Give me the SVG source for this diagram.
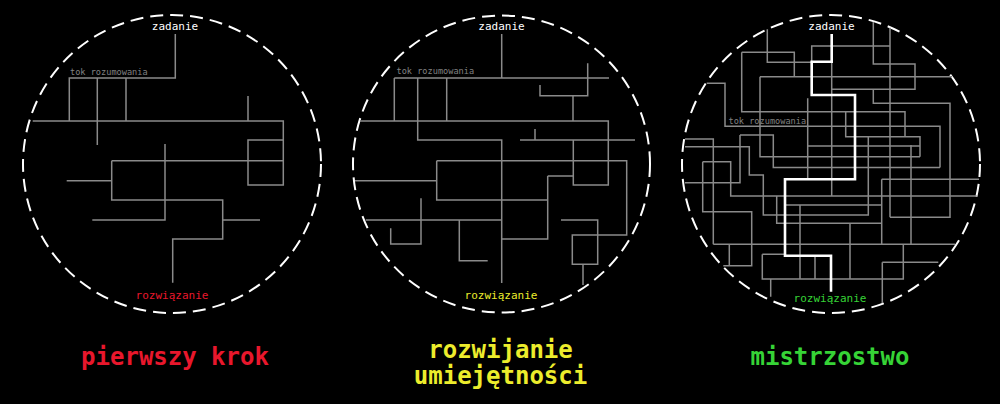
<svg xmlns="http://www.w3.org/2000/svg" width="1000" height="404" viewBox="0 0 1000 404">
<style>
.bg{fill:#000}
.ring{fill:none;stroke:#fff;stroke-width:2;stroke-dasharray:13 7}
.ln{fill:none;stroke:#8a8a8a;stroke-width:1.5}
.hot{fill:none;stroke:#fff;stroke-width:2.6}
.lbl{font-family:"DejaVu Sans Mono","Liberation Mono",monospace;font-size:11px;text-anchor:middle}
.tok{font-family:"DejaVu Sans Mono","Liberation Mono",monospace;font-size:8.6px;fill:#808080}
.ttl{font-family:"DejaVu Sans Mono","Liberation Mono",monospace;font-size:24px;font-weight:bold;text-anchor:middle}
.w{fill:#fff}.r{fill:#e8172c}.y{fill:#ecec2c}.g{fill:#36d336}
</style>
<rect class="bg" width="1000" height="404"/>

<g id="stage1">
<circle class="ring" cx="172" cy="164" r="149"/>
<g id="connectors1">
<path class="ln" d="M175.3,34V78H69.3V121M97.3,78V145M126,78V121M32.7,121H283.3V185H248V140H283.3M248,96V121M111.7,160.7H283.3M165,144V220H92.3M111.7,160.7V200H222.7V239H172.7V282.7M66.7,180.7H111.7M222.7,220H260"/>
</g>
<text id="zadanie1" class="lbl w" x="175" y="29.5">zadanie</text>
<text id="tok1" class="tok" x="70" y="75">tok rozumowania</text>
<text id="rozw1" class="lbl r" x="172" y="299">rozwiązanie</text>
<text id="title1" class="ttl r" x="175" y="365">pierwszy krok</text>
</g>

<g id="stage2">
<circle class="ring" cx="501.5" cy="164" r="148.5"/>
<g id="connectors2">
<path class="ln" d="M501.7,34V78M394.3,78H609M394.3,78V121M417.7,78V140H501.7V283M446.7,78V121M587.7,63.3V95.7H540V85M573,95.7V121M360,121H608.3V185H573.3V140M520,140H635M535,129V140M436.7,160.7H626.7V235H572.3V264.3H597.7V220H561M547.7,176H573.3M547.7,176V239H501.7M436.7,160.7V200H547.7M355,180.7H436.7M365.7,220H501.7M421,198.3V244H390.7V228.3M459.3,220V260.7H487.7M583,264.3V285"/>
</g>
<text id="zadanie2" class="lbl w" x="501.5" y="29.5">zadanie</text>
<text id="tok2" class="tok" x="396.5" y="74">tok rozumowania</text>
<text id="rozw2" class="lbl y" x="501" y="299">rozwiązanie</text>
<text id="title2" class="ttl y" x="500.5" y="357.5">rozwijanie<tspan x="500.5" y="384">umiejętności</tspan></text>
</g>

<g id="stage3">
<circle class="ring" cx="831" cy="164" r="149"/>
<g id="connectors3">
<path class="ln" d="M767.3,29.3V62.3H811.7V46H890M741.7,52.3H794.3V76.7M741.7,52.3V111.7H905V136.7M760,76.7H952M760,76.7V156.7H920M706.7,83.3H725V126.3H940V167.5M845.7,111.7V136.7H920V156.7M807.7,98.3V179.3M740,135H773.3V167.5H940M740,135V182.7H685M685,139H713.3V244.3M685,146.7H749.3V175H763.3V215H868.3V136.7M702.7,161.7H730.7V196H976.7M702.7,161.7V211.7H751.7V265.7H723.3M729.3,244.3V265.7M713.3,244.3H955M776.7,196V223.3H881.7M785,205H881.7M800,205V279M762.3,254.3H785M762.3,254.3V279H903.3V244.3M815,256V279M770.7,279V296.7M831.7,62.3V196M873.3,22V64H915V89.3H831.7M873.3,89.3V103.3H950V217.3H890M890,27.7V217.3M807.7,146H920M911,145V244.3M881.7,179.3H979M881.7,179.3V244.3M850,223.3V279M882.3,262.3H938.3M882.3,262.3V303"/>
<path class="hot" d="M831.7,34V61.7H811.7V95H855V179.3H785V255.7H831V291.7"/>
</g>
<text id="zadanie3" class="lbl w" x="831.5" y="29.5">zadanie</text>
<text id="tok3" class="tok" x="728.5" y="124">tok rozumowania</text>
<text id="rozw3" class="lbl g" x="830" y="302">rozwiązanie</text>
<text id="title3" class="ttl g" x="830" y="365">mistrzostwo</text>
</g>
</svg>
